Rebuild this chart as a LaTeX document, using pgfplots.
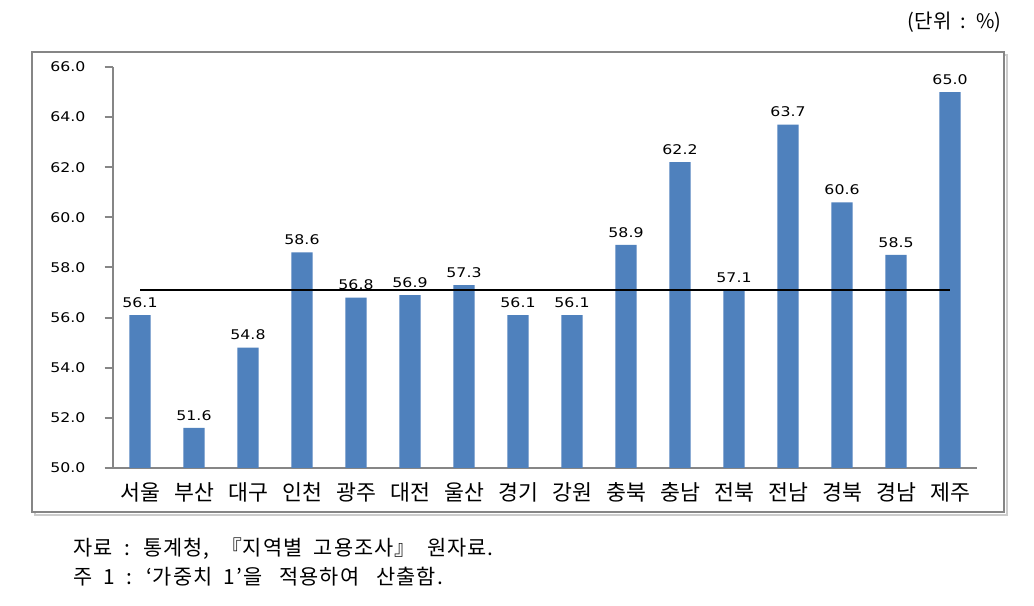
\documentclass[border=0pt]{standalone}
\usepackage{fontspec}
\usepackage{pgfplots}
\pgfplotsset{compat=1.18}
\newfontfamily\kr{Noto Sans CJK KR}
\newfontfamily\krnote[LetterSpace=5]{Noto Sans CJK KR}
\newfontfamily\num[FakeStretch=1.18]{DejaVu Sans}
\definecolor{bar}{HTML}{4F81BD}
\definecolor{axgray}{HTML}{868686}

\begin{document}
\begin{tikzpicture}
% page size (1034 x 606 px at 0.6pt per px)
\path (0pt,0pt) rectangle (620.4pt,363.6pt);
% chart frame with shadow
\draw[gray!40, line width=1.6pt] (21pt,54.6pt) rectangle (604.2pt,330.6pt);
\draw[axgray, line width=1.2pt, fill=white] (19.2pt,56.4pt) rectangle (602.4pt,332.4pt);
\node[anchor=east, inner sep=0pt, font=\kr\fontsize{12}{14}\selectfont] at (601.2pt,350.4pt) {(단위 ~:~ \%)};

\begin{axis}[
  at={(67.8pt,82.8pt)}, anchor=south west,
  scale only axis, width=518.4pt, height=240.6pt,
  xmin=-0.5, xmax=15.5, ymin=50, ymax=66,
  axis lines*=left,
  axis line style={axgray, line width=1.4pt},
  every tick/.style={axgray, line width=1.2pt},
  tick align=outside,
  major tick length=5pt, minor tick length=5pt,
  ytick={50,52,...,66},
  yticklabel style={font=\num\fontsize{8}{9}\selectfont, /pgf/number format/fixed, /pgf/number format/fixed zerofill, /pgf/number format/precision=1, xshift=-8pt},
  /pgf/number format/assume math mode=true,
  xtick={0,...,15},
  xticklabels={서울,부산,대구,인천,광주,대전,울산,경기,강원,충북,충남,전북,전남,경북,경남,제주},
  xticklabel style={font=\kr\fontsize{13}{14}\selectfont, yshift=0pt},
  xtick style={draw=none},
  minor xtick={-0.5,0.5,...,15.5},
  clip=false,
  nodes near coords,
  every node near coord/.append style={font=\num\fontsize{8}{9}\selectfont, /pgf/number format/fixed, /pgf/number format/fixed zerofill, /pgf/number format/precision=1, yshift=1pt},
]
\addplot[ybar, bar width=12.8pt, fill=bar, draw=none] coordinates {
  (0,56.1) (1,51.6) (2,54.8) (3,58.6) (4,56.8) (5,56.9) (6,57.3) (7,56.1)
  (8,56.1) (9,58.9) (10,62.2) (11,57.1) (12,63.7) (13,60.6) (14,58.5) (15,65.0)
};
\addplot[black, line width=0.9pt, nodes near coords={}] coordinates {(0,57.1) (15,57.1)};
\end{axis}

\node[anchor=west, inner sep=0pt, font=\krnote\fontsize{12.5}{14}\selectfont] at (43.8pt,34.2pt) {자료 ~:~ 통계청, ~『지역별 ~고용조사』 ~원자료.};
\node[anchor=west, inner sep=0pt, font=\krnote\fontsize{12.5}{14}\selectfont] at (43.8pt,17.4pt) {주 ~1 ~:~ ‘가중치 ~1’을 ~~적용하여 ~~산출함.};
\end{tikzpicture}
\end{document}
